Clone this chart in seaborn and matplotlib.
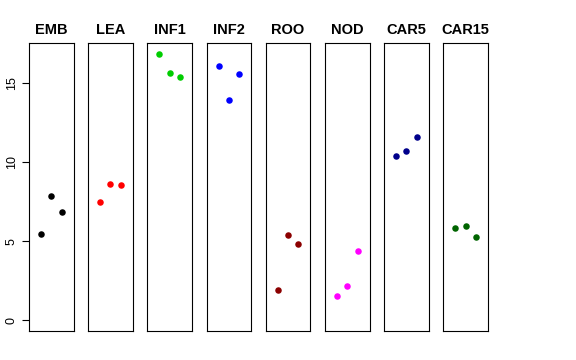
import pandas as pd
import numpy as np
import seaborn as sns
import matplotlib.pyplot as plt

tissues = ['EMB', 'LEA', 'INF1', 'INF2', 'ROO', 'NOD', 'CAR5', 'CAR15']
colors = ['black', 'red', '#00CD00', 'blue', '#8B0000', 'magenta', '#00008B', '#006400']
reps = [1, 2, 3]
emb = [5.49, 7.87, 6.84]
lea = [7.47, 8.63, 8.57]
inf1 = [16.86, 15.63, 15.40]
inf2 = [16.10, 13.92, 15.59]
roo = [1.90, 5.38, 4.83]
nod = [1.52, 2.19, 4.37]
car5 = [10.42, 10.70, 11.60]
car15 = [5.84, 5.97, 5.25]

values = [emb, lea, inf1, inf2, roo, nod, car5, car15]
df = pd.DataFrame({
    'tissue': np.repeat(tissues, 3),
    'rep': reps * len(tissues),
    'expr': np.concatenate(values),
})

sns.set_style('white')
plt.rcParams['font.family'] = ['Liberation Sans', 'DejaVu Sans']

fig = plt.figure(figsize=(5.76, 3.6), dpi=100)
W, H = 576, 360
top, bottom = 43.3, 331
ymax = df['expr'].max()
ypad = 0.04 * ymax
for i, (t, c) in enumerate(zip(tissues, colors)):
    left = 29 + i * 59.2
    ax = fig.add_axes([left / W, (H - bottom) / H, 44.5 / W, (bottom - top) / H])
    sub = df[df['tissue'] == t]
    sns.scatterplot(data=sub, x='rep', y='expr', color=c, s=22, linewidth=0, ax=ax)
    ax.set_xlim(-0.16, 4.16)
    ax.set_ylim(-ypad, ymax + ypad)
    ax.set_xticks([])
    ax.set_xlabel('')
    ax.set_ylabel('')
    ax.set_title(t, fontsize=10.5, fontweight='bold', pad=7, color='black')
    for s in ax.spines.values():
        s.set_color('black')
        s.set_linewidth(0.8)
    if i == 0:
        ax.set_yticks([0, 5, 10, 15])
        ax.tick_params(axis='y', length=5, width=0.8, labelsize=9, pad=3,
                       left=True, direction='out', color='black', labelcolor='black')
        for lab in ax.get_yticklabels():
            lab.set_rotation(90)
            lab.set_va('center')
    else:
        ax.set_yticks([])

fig.savefig('out.png', dpi=100)
